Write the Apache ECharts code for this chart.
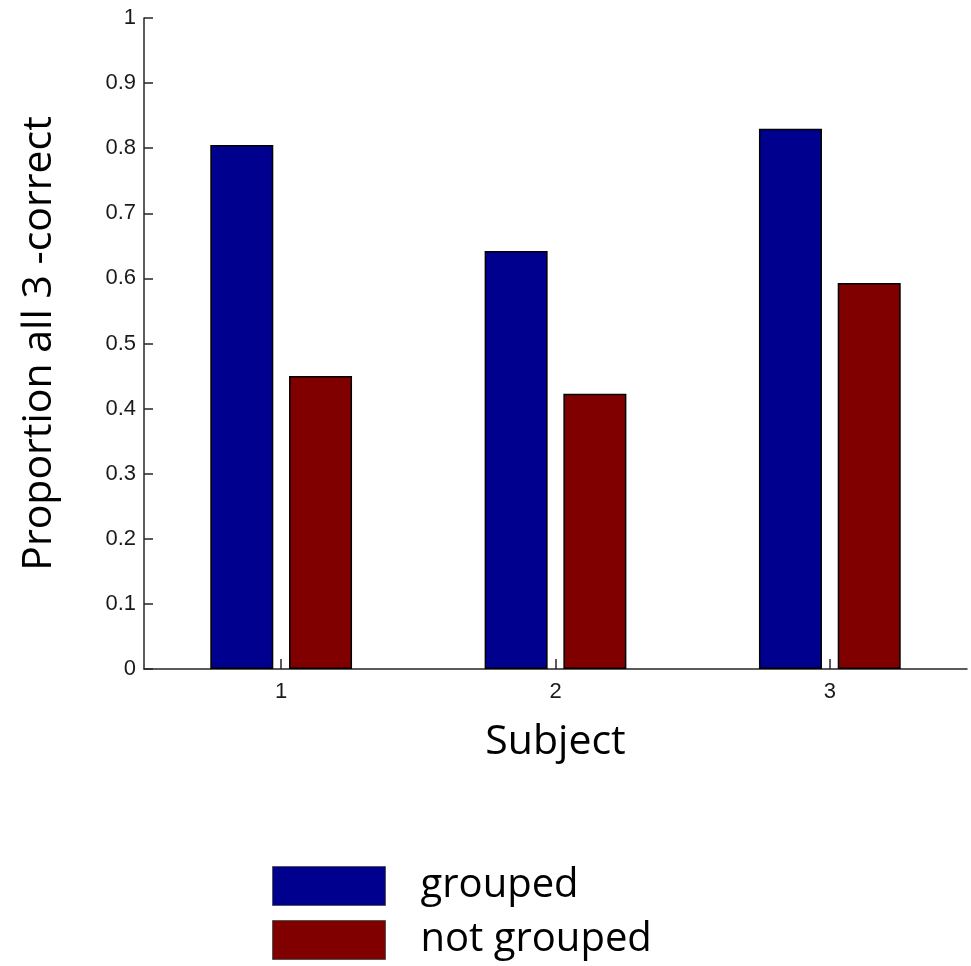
<!DOCTYPE html>
<html>
<head>
<meta charset="utf-8">
<script src="https://cdn.jsdelivr.net/npm/echarts@6/dist/echarts.min.js"></script>
<style>
  html, body { margin: 0; padding: 0; background: #ffffff; }
  #chart { width: 971px; height: 966px; }
</style>
</head>
<body>
<div id="chart"></div>
<script>
// Subjects on the x axis
const subjects = ['1', '2', '3'];
// Proportion of trials with all 3 items correct
const groupedValues = [0.805, 0.642, 0.830];
const notGroupedValues = [0.450, 0.423, 0.593];
const seriesNames = ['grouped', 'not grouped'];

const axisColor = '#262626';
const titleFont = '"Open Sans", "Noto Sans", sans-serif';
const tickFont = '"Liberation Sans", Arial, sans-serif';

const chart = echarts.init(document.getElementById('chart'), null, { renderer: 'canvas' });

const barStyle = (color) => ({
  color: color,
  borderColor: '#000000',
  borderWidth: 1.5
});

chart.setOption({
  animation: false,
  backgroundColor: '#ffffff',
  grid: { left: 144, right: 4, top: 18, bottom: 297, containLabel: false },
  xAxis: {
    type: 'category',
    data: subjects,
    name: 'Subject',
    nameLocation: 'middle',
    nameGap: 53,
    nameTextStyle: { fontFamily: titleFont, fontSize: 41, color: '#000000' },
    axisLine: { show: true, lineStyle: { color: axisColor, width: 1.5 } },
    axisTick: { show: true, inside: true, alignWithLabel: true, length: 10, lineStyle: { color: axisColor, width: 1.5 } },
    axisLabel: { margin: 12, fontFamily: tickFont, fontSize: 22, color: '#1a1a1a' },
    splitLine: { show: false }
  },
  yAxis: {
    type: 'value',
    min: 0,
    max: 1,
    interval: 0.1,
    name: 'Proportion all 3 -correct',
    nameLocation: 'middle',
    nameRotate: 90,
    nameGap: 84,
    nameTextStyle: { fontFamily: titleFont, fontSize: 41, color: '#000000' },
    axisLine: { show: true, lineStyle: { color: axisColor, width: 1.5 } },
    axisTick: { show: true, inside: true, length: 9, lineStyle: { color: axisColor, width: 1.5 } },
    axisLabel: { margin: 8, fontFamily: tickFont, fontSize: 22, color: '#1a1a1a' },
    splitLine: { show: false }
  },
  legend: {
    orient: 'vertical',
    left: 272,
    top: 866,
    padding: 0,
    icon: 'rect',
    itemWidth: 113,
    itemHeight: 39,
    itemGap: 14,
    data: seriesNames,
    itemStyle: { borderColor: '#555555', borderWidth: 1 },
    textStyle: { fontFamily: titleFont, fontSize: 40, lineHeight: 39, color: '#000000', padding: [0, 0, 0, 30] }
  },
  series: [
    {
      name: seriesNames[0],
      type: 'bar',
      data: groupedValues,
      barWidth: 63,
      barGap: '25%',
      itemStyle: barStyle('#00008f')
    },
    {
      name: seriesNames[1],
      type: 'bar',
      data: notGroupedValues,
      barWidth: 63,
      barGap: '25%',
      itemStyle: barStyle('#800000')
    }
  ]
});
</script>
</body>
</html>
